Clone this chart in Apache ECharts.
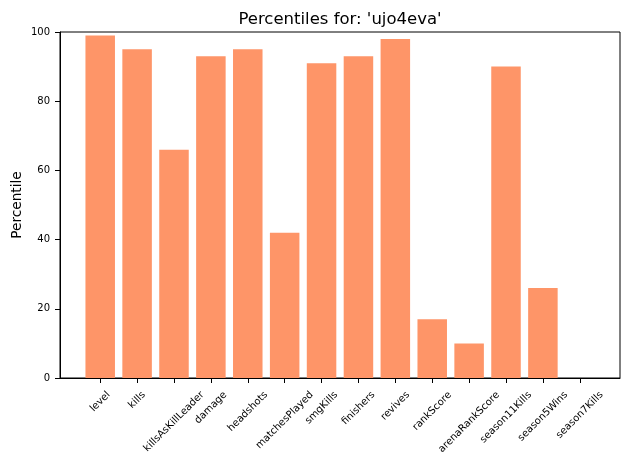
<!DOCTYPE html>
<html>
<head>
<meta charset="utf-8">
<script src="https://cdn.jsdelivr.net/npm/echarts@6/dist/echarts.min.js"></script>
<style>
  html, body { margin: 0; padding: 0; background: #fff; }
  #chart { width: 630px; height: 470px; }
</style>
</head>
<body>
<div id="chart"></div>
<script>
const categories = ['level', 'kills', 'killsAsKillLeader', 'damage', 'headshots', 'matchesPlayed',
  'smgKills', 'finishers', 'revives', 'rankScore', 'arenaRankScore', 'season11Kills',
  'season5Wins', 'season7Kills']
const percentiles = [99, 95, 66, 93, 95, 42, 91, 93, 98, 17, 10, 90, 26, 0]
const yTicks = [0, 20, 40, 60, 80, 100]

const FONT = 'DejaVu Sans'
const LABEL_SIZE = 10
const LABEL_H = 12

// plot frame in pixels, and matplotlib-style x margins (5% of the bar span)
const W = 630, H = 470
const plotLeft = 60, plotRight = 620, plotTop = 32, plotBottom = 378
const n = categories.length
const xMin = -0.4 - 0.05 * (n - 0.2)
const xMax = (n - 1) + 0.4 + 0.05 * (n - 0.2)
const band = (plotRight - plotLeft) / (xMax - xMin)
const innerLeft = plotLeft + (-0.5 - xMin) * band
const innerRight = innerLeft + n * band

// measure labels so the rotated text is centred under its tick (like matplotlib)
const ctx = document.createElement('canvas').getContext('2d')
ctx.font = LABEL_SIZE + 'px "' + FONT + '"'
const rich = {}
categories.forEach((name, i) => {
  const w = ctx.measureText(name).width
  const p = (w + LABEL_H) / 2
  rich['c' + i] = {
    fontFamily: FONT, fontSize: LABEL_SIZE, color: '#000',
    lineHeight: LABEL_H, padding: [p, p, 0, 0]
  }
})

const chart = echarts.init(document.getElementById('chart'))
chart.setOption({
  animation: false,
  title: {
    text: "Percentiles for: 'ujo4eva'",
    left: (plotLeft + plotRight) / 2, top: 11, padding: 0,
    textAlign: 'center',
    textStyle: { fontFamily: FONT, fontSize: 16.5, fontWeight: 'normal', color: '#000' }
  },
  grid: [
    {
      // frame + y axis
      left: plotLeft, right: W - plotRight, top: plotTop, bottom: H - plotBottom,
      containLabel: false, outerBoundsMode: 'none',
      show: true, borderColor: '#000', borderWidth: 1
    },
    {
      // bars, category bands sized like matplotlib's
      left: innerLeft, right: W - innerRight, top: plotTop, bottom: H - plotBottom,
      containLabel: false, outerBoundsMode: 'none'
    }
  ],
  xAxis: [
    {
      gridIndex: 0,
      type: 'value', min: 0, max: 1,
      axisLine: { show: true, onZero: false, lineStyle: { color: '#000' } },
      axisTick: { show: false },
      axisLabel: { show: false },
      splitLine: { show: false }
    },
    {
      gridIndex: 1,
      type: 'category',
      data: categories,
      axisLine: { show: false },
      axisTick: { show: true, length: 5, alignWithLabel: true, interval: 0, lineStyle: { color: '#000' } },
      splitLine: { show: false },
      axisLabel: {
        interval: 0,
        rotate: 45,
        align: 'center',
        verticalAlign: 'middle',
        margin: 11,
        formatter: (v, i) => '{c' + i + '|' + v + '}',
        rich: rich
      }
    }
  ],
  yAxis: [
    {
      gridIndex: 0,
      type: 'value',
      min: yTicks[0], max: yTicks[yTicks.length - 1], interval: 20,
      name: 'Percentile',
      nameLocation: 'middle',
      nameGap: 36,
      nameMoveOverlap: false,
      nameTextStyle: { fontFamily: FONT, fontSize: 13.7, color: '#000' },
      axisLine: { show: true, onZero: false, lineStyle: { color: '#000' } },
      axisTick: { show: true, length: 5, lineStyle: { color: '#000' } },
      splitLine: { show: false },
      axisLabel: { fontFamily: FONT, fontSize: LABEL_SIZE, color: '#000', margin: 10 }
    },
    {
      gridIndex: 1,
      type: 'value',
      min: yTicks[0], max: yTicks[yTicks.length - 1],
      show: false
    }
  ],
  series: [{
    type: 'bar',
    xAxisIndex: 1,
    yAxisIndex: 1,
    barWidth: '80%',
    itemStyle: { color: '#fe9568' },
    data: percentiles
  }]
})
</script>
</body>
</html>
